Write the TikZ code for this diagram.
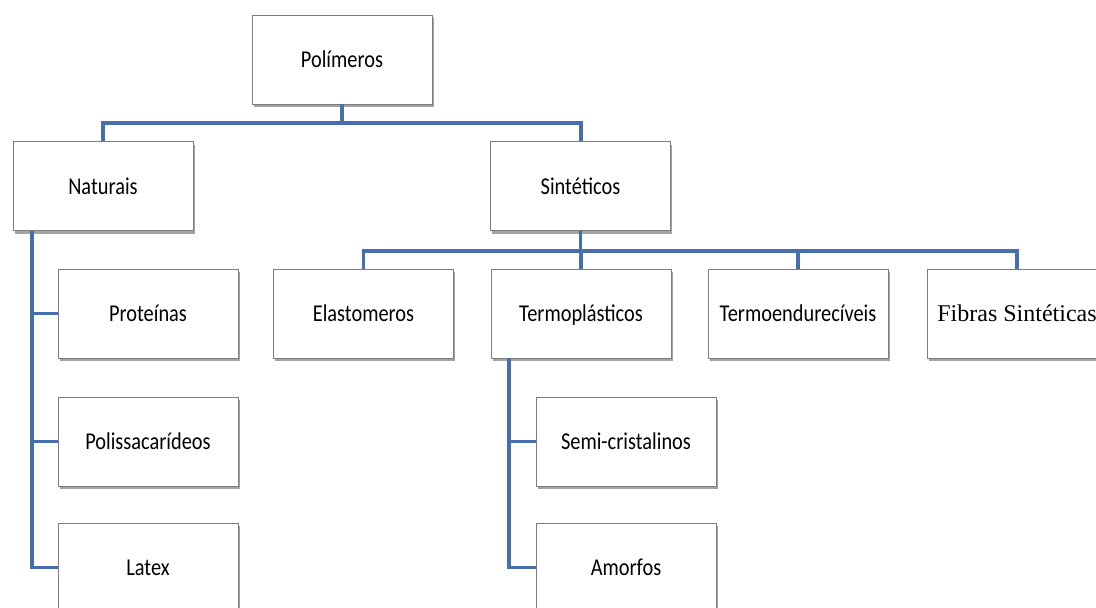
\documentclass[tikz,border=0pt]{standalone}
\usepackage{fontspec}
\setmainfont{Carlito}
\newfontfamily\timesf{Liberation Serif}
\usetikzlibrary{shadows,calc}
\definecolor{connblue}{RGB}{70,112,172}
\definecolor{boxline}{RGB}{125,125,125}
\newcommand{\tall}[1]{\scalebox{0.97}[1.15]{#1}}
\tikzset{
  box/.style={draw=boxline, line width=0.9pt, fill=white, minimum width=180pt, minimum height=89pt,
    inner sep=0pt, text height=18pt, text depth=2pt, font=\fontsize{21}{24}\selectfont,
    drop shadow={shadow xshift=1.5pt, shadow yshift=-3pt, fill=black!60, opacity=0.6}},
  conn/.style={draw=connblue, line width=3.2pt},
  connthick/.style={draw=connblue, line width=4pt}
}
\begin{document}
\begin{tikzpicture}[x=1pt,y=-1pt]
\clip (0,0) rectangle (1096,608);
\fill[white] (0,0) rectangle (1096,608);
\coordinate (nx) at (32,0);
\coordinate (tx) at (509,0);
\coordinate (bus1) at (0,123);
\coordinate (bus2) at (0,251);
\node[box] (pol) at (342,59.5) {\tall{Polímeros}};
\node[box] (nat) at (103,186) {\tall{Naturais}};
\node[box] (sin) at (580.5,186) {\tall{Sintéticos}};
\node[box] (prot) at (148,313.5) {\tall{Proteínas}};
\node[box] (poli) at (148,441.5) {\tall{Polissacarídeos}};
\node[box] (lat) at (148,567.5) {\tall{Latex}};
\node[box] (ela) at (363.5,313.5) {\tall{Elastomeros}};
\node[box] (termo) at (581,313.5) {\tall{Termoplásticos}};
\node[box] (termoe) at (798,313.5) {\tall{Termoendurecíveis}};
\node[box, font=\timesf\fontsize{24}{26}\selectfont] (fib) at (1017,313.5) {Fibras Sintéticas};
\node[box] (semi) at (626,441.5) {\tall{Semi-cristalinos}};
\node[box] (amo) at (626,567.5) {\tall{Amorfos}};
% level 1
\draw[connthick] (pol.south) -- (pol.south |- bus1);
\draw[connthick] (nat.north) |- (pol.south |- bus1) -| (sin.north);
% Naturais branch
\draw[conn] (nat.south -| nx) -- (lat.west -| nx) -- (lat.west);
\draw[conn] (prot.west -| nx) -- (prot.west);
\draw[conn] (poli.west -| nx) -- (poli.west);
% Sinteticos bus
\draw[conn] (sin.south) -- (sin.south |- bus2);
\draw[conn] (ela.north) |- (sin.south |- bus2) -| (fib.north);
\draw[conn] (termo.north) -- (termo.north |- bus2);
\draw[conn] (termoe.north) -- (termoe.north |- bus2);
% Termoplasticos branch
\draw[conn] (termo.south -| tx) -- (amo.west -| tx) -- (amo.west);
\draw[conn] (semi.west -| tx) -- (semi.west);
\end{tikzpicture}
\end{document}
